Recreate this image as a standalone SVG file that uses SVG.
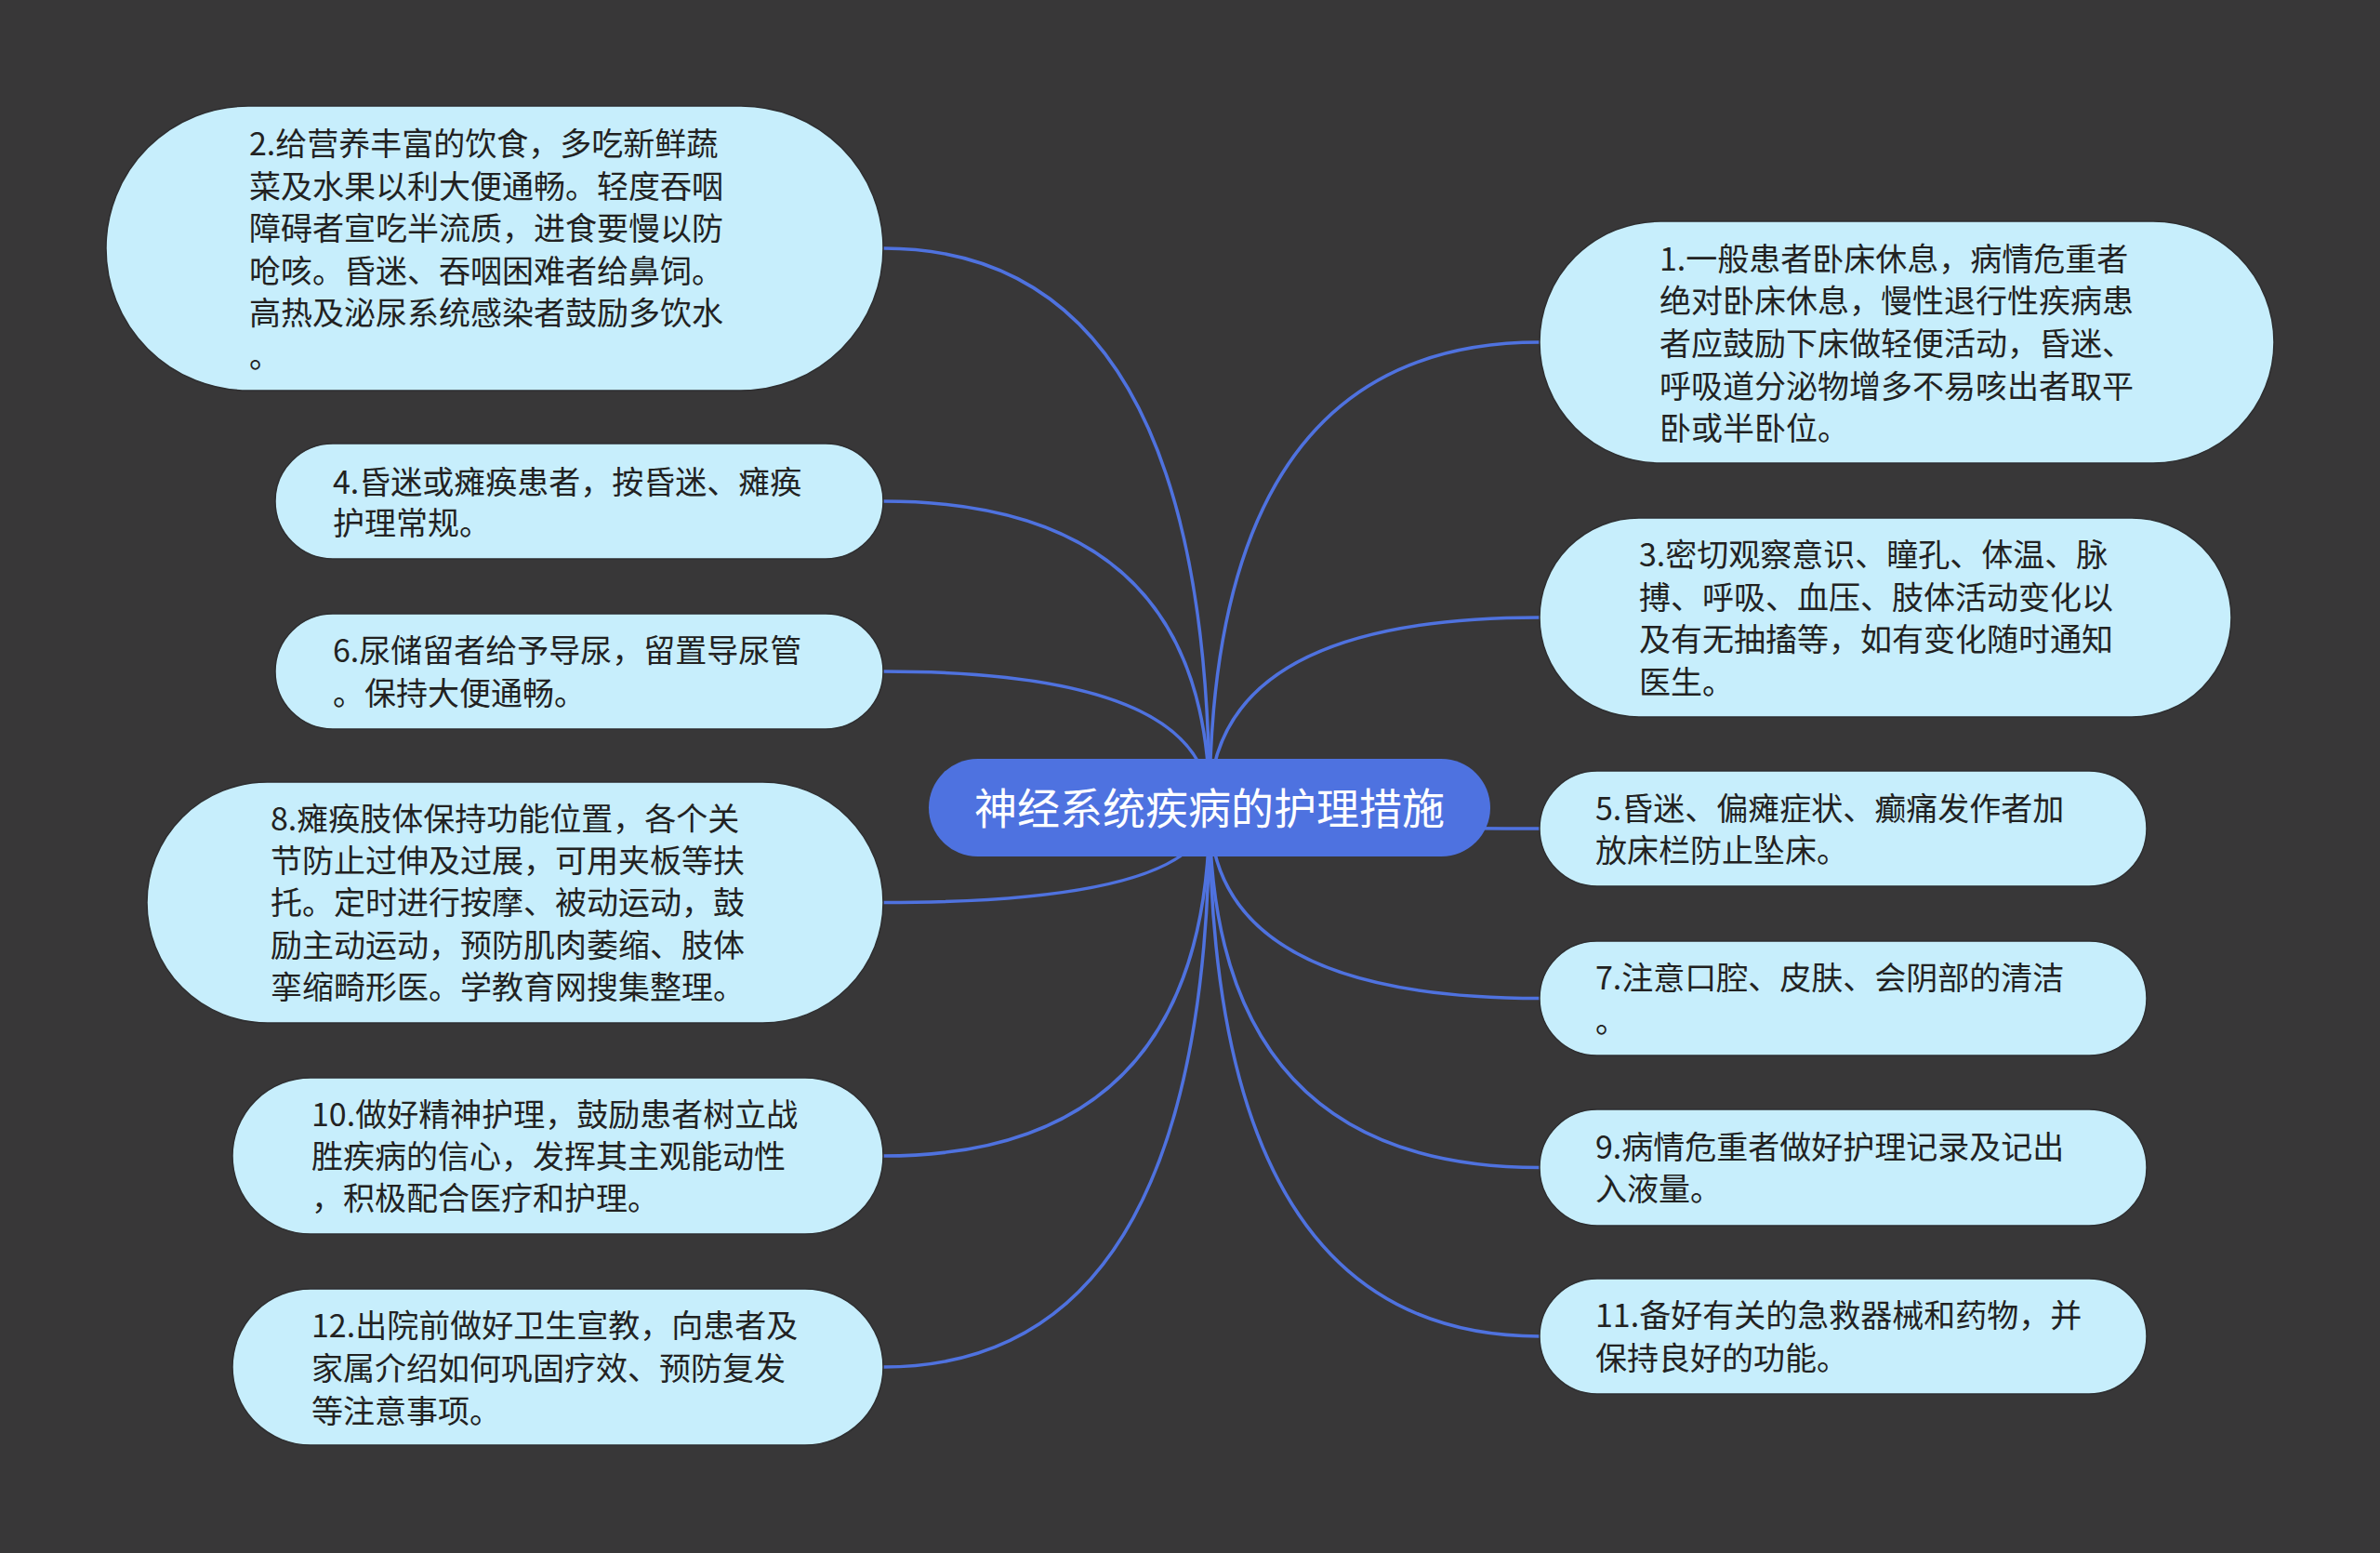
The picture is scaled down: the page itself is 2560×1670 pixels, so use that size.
<svg xmlns="http://www.w3.org/2000/svg" width="2560" height="1670" viewBox="0 0 2560 1670">
<style>
.bg{fill:#383738}
.link{fill:none;stroke:#4F72DF;stroke-width:3.5}
.node{fill:#C7EEFC;stroke:#2E2E30;stroke-width:1.5}
.root{fill:#4E72E0}
.t{font-family:"Noto Sans CJK SC","Noto Sans",sans-serif;font-size:34px;fill:#222222}
.rt{font-family:"Noto Sans CJK SC","Noto Sans",sans-serif;font-size:46px;fill:#FFFFFF;text-anchor:middle}
</style>
<rect class="bg" x="0" y="0" width="2560" height="1670"/>
<g id="connectors">
<path class="link" d="M1301 869 Q1301 267 950 267"/>
<path class="link" d="M1301 869 Q1301 539 950 539"/>
<path class="link" d="M1301 869 Q1301 722 950 722"/>
<path class="link" d="M1301 869 Q1301 970.5 950 970.5"/>
<path class="link" d="M1301 869 Q1301 1243 950 1243"/>
<path class="link" d="M1301 869 Q1301 1470 950 1470"/>
<path class="link" d="M1301 869 Q1301 368 1656 368"/>
<path class="link" d="M1301 869 Q1301 664 1656 664"/>
<path class="link" d="M1301 869 Q1301 891 1656 891"/>
<path class="link" d="M1301 869 Q1301 1073.5 1656 1073.5"/>
<path class="link" d="M1301 869 Q1301 1255.5 1656 1255.5"/>
<path class="link" d="M1301 869 Q1301 1437 1656 1437"/>
</g>
<g id="root">
<rect class="root" x="999" y="816" width="604" height="105" rx="52.5"/>
<text class="rt" x="1301" y="886">神经系统疾病的护理措施</text>
</g>
<g id="n2">
<rect class="node" x="114" y="114" width="836" height="306" rx="153"/>
<text class="t"><tspan x="268" y="167">2.给营养丰富的饮食，多吃新鲜蔬</tspan><tspan x="268" y="212.5">菜及水果以利大便通畅。轻度吞咽</tspan><tspan x="268" y="258">障碍者宣吃半流质，进食要慢以防</tspan><tspan x="268" y="303.5">呛咳。昏迷、吞咽困难者给鼻饲。</tspan><tspan x="268" y="349">高热及泌尿系统感染者鼓励多饮水</tspan><tspan x="268" y="394.5">。</tspan></text>
</g>
<g id="n4">
<rect class="node" x="296" y="477" width="654" height="124" rx="62"/>
<text class="t"><tspan x="358" y="531">4.昏迷或瘫痪患者，按昏迷、瘫痪</tspan><tspan x="358" y="575">护理常规。</tspan></text>
</g>
<g id="n6">
<rect class="node" x="296" y="660" width="654" height="124" rx="62"/>
<text class="t"><tspan x="358" y="712">6.尿储留者给予导尿，留置导尿管</tspan><tspan x="358" y="758">。保持大便通畅。</tspan></text>
</g>
<g id="n8">
<rect class="node" x="158" y="841" width="792" height="259" rx="129.5"/>
<text class="t"><tspan x="291" y="893">8.瘫痪肢体保持功能位置，各个关</tspan><tspan x="291" y="938">节防止过伸及过展，可用夹板等扶</tspan><tspan x="291" y="983">托。定时进行按摩、被动运动，鼓</tspan><tspan x="291" y="1029">励主动运动，预防肌肉萎缩、肢体</tspan><tspan x="291" y="1074">挛缩畸形医。学教育网搜集整理。</tspan></text>
</g>
<g id="n10">
<rect class="node" x="250" y="1159" width="700" height="168" rx="84"/>
<text class="t"><tspan x="335" y="1211">10.做好精神护理，鼓励患者树立战</tspan><tspan x="335" y="1256">胜疾病的信心，发挥其主观能动性</tspan><tspan x="335" y="1301">，积极配合医疗和护理。</tspan></text>
</g>
<g id="n12">
<rect class="node" x="250" y="1386" width="700" height="168" rx="84"/>
<text class="t"><tspan x="335" y="1438">12.出院前做好卫生宣教，向患者及</tspan><tspan x="335" y="1484">家属介绍如何巩固疗效、预防复发</tspan><tspan x="335" y="1530">等注意事项。</tspan></text>
</g>
<g id="n1">
<rect class="node" x="1656" y="238" width="790" height="260" rx="130"/>
<text class="t"><tspan x="1785" y="291">1.一般患者卧床休息，病情危重者</tspan><tspan x="1785" y="336">绝对卧床休息，慢性退行性疾病患</tspan><tspan x="1785" y="382">者应鼓励下床做轻便活动，昏迷、</tspan><tspan x="1785" y="428">呼吸道分泌物增多不易咳出者取平</tspan><tspan x="1785" y="473">卧或半卧位。</tspan></text>
</g>
<g id="n3">
<rect class="node" x="1656" y="557" width="744" height="214" rx="107"/>
<text class="t"><tspan x="1763" y="609">3.密切观察意识、瞳孔、体温、脉</tspan><tspan x="1763" y="655">搏、呼吸、血压、肢体活动变化以</tspan><tspan x="1763" y="700">及有无抽搐等，如有变化随时通知</tspan><tspan x="1763" y="746">医生。</tspan></text>
</g>
<g id="n5">
<rect class="node" x="1656" y="829" width="653" height="124" rx="62"/>
<text class="t"><tspan x="1716" y="882">5.昏迷、偏瘫症状、癫痛发作者加</tspan><tspan x="1716" y="927">放床栏防止坠床。</tspan></text>
</g>
<g id="n7">
<rect class="node" x="1656" y="1012" width="653" height="123" rx="61.5"/>
<text class="t"><tspan x="1716" y="1064">7.注意口腔、皮肤、会阴部的清洁</tspan><tspan x="1716" y="1110">。</tspan></text>
</g>
<g id="n9">
<rect class="node" x="1656" y="1193" width="653" height="125" rx="62"/>
<text class="t"><tspan x="1716" y="1246">9.病情危重者做好护理记录及记出</tspan><tspan x="1716" y="1291">入液量。</tspan></text>
</g>
<g id="n11">
<rect class="node" x="1656" y="1375" width="653" height="124" rx="62"/>
<text class="t"><tspan x="1716" y="1427">11.备好有关的急救器械和药物，并</tspan><tspan x="1716" y="1473">保持良好的功能。</tspan></text>
</g>
</svg>
